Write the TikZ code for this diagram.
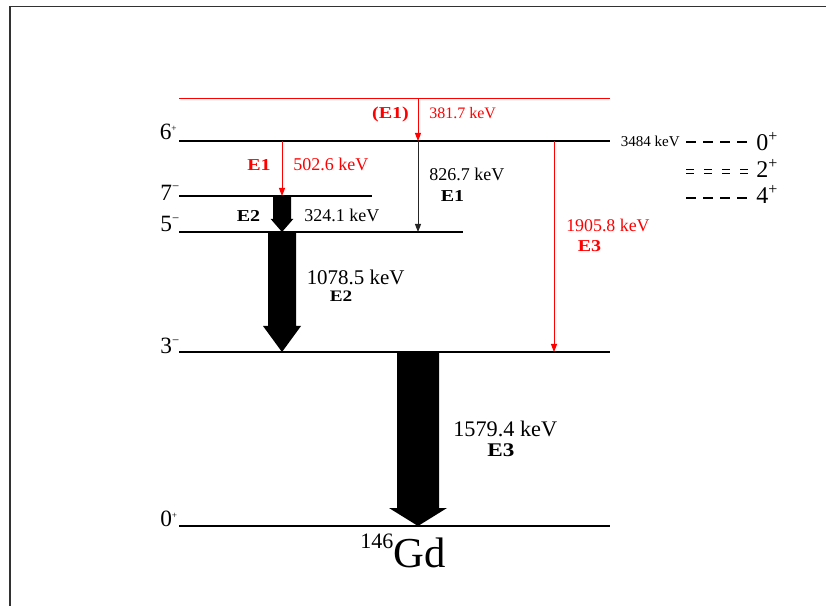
\documentclass[tikz,border=0pt]{standalone}
\usepackage{fontspec}
\setmainfont{Liberation Serif}
\newfontfamily\boldwide[FakeStretch=1.2]{Liberation Serif}
\usetikzlibrary{arrows.meta,calc}
\newcommand\fsz[1]{\fontsize{#1}{#1}\selectfont}
\newcommand\fatarrow[5]{%
  \fill ($(#1)+(-#3,0)$) -- ($(#1)+(#3,0)$) -- ($(#2)+(#3,-#5)$) -- ($(#2)+(#4,-#5)$) -- (#2)
     -- ($(#2)+(-#4,-#5)$) -- ($(#2)+(-#3,-#5)$) -- cycle;}
\definecolor{lred}{RGB}{255,0,0}
\definecolor{framec}{RGB}{50,50,50}
\begin{document}
\begin{tikzpicture}[x=0.75pt,y=-0.75pt,
  level/.style={line width=0.85pt},
  thinarr/.style={line width=0.75pt,-{Triangle[width=4.5pt,length=6pt]}},
  kev/.style={anchor=base west,inner sep=0pt},
  eb/.style={anchor=base,inner sep=0pt,font=\boldwide\bfseries\fsz{12.5}},
  lvl/.style={anchor=base east,inner sep=0pt,font=\fsz{17.5}},
  rlab/.style={anchor=base west,inner sep=0pt,font=\fsz{18}},
  rdash/.style={line width=0.8pt,dash pattern=on 7.5pt off 5.25pt}]
\useasboundingbox (0,0) rectangle (826,606);
% frame
\draw[framec,line width=1.2pt] (9.7,620) -- (9.7,6.5) -- (840,6.5);
% level coordinates
\coordinate (Rw) at (179,98.5);   \coordinate (Re) at (610,98.5);
\coordinate (A6w) at (179,141); \coordinate (A6e) at (610,141);
\coordinate (A7w) at (179,196); \coordinate (A7e) at (372,196);
\coordinate (A5w) at (179,232); \coordinate (A5e) at (463,232);
\coordinate (A3w) at (179,352); \coordinate (A3e) at (610,352);
\coordinate (A0w) at (179,526); \coordinate (A0e) at (610,526);
% levels
\draw[level,draw=lred] (Rw) -- (Re);
\draw[level] (A6w) -- (A6e);
\draw[level] (A7w) -- (A7e);
\draw[level] (A5w) -- (A5e);
\draw[level] (A3w) -- (A3e);
\draw[line width=1.9pt] (A0w) -- (A0e);
% level labels
\node[lvl] (l6) at (177,140) {6\raisebox{6.5pt}{\fsz{7}+}};
\node[lvl] (l7) at (179.5,200.5) {7\raisebox{7.3pt}{\fsz{9.5}−}};
\node[lvl] (l5) at (179.5,232) {5\raisebox{7.3pt}{\fsz{9.5}−}};
\node[lvl] (l3) at (179.5,354) {3\raisebox{7.3pt}{\fsz{9.5}−}};
\node[lvl] (l0) at (177.5,527) {0\raisebox{6.5pt}{\fsz{7}+}};
% transition coordinates
\coordinate (t381a) at (418,98.5);  \coordinate (t381b) at (418,141);
\coordinate (t502a) at (282,141); \coordinate (t502b) at (282,196);
\coordinate (t826a) at (418,141); \coordinate (t826b) at (418,232);
\coordinate (t1905a) at (554,141); \coordinate (t1905b) at (554,352);
\coordinate (t324a) at (282,196); \coordinate (t324b) at (282,232);
\coordinate (t1078a) at (282,232); \coordinate (t1078b) at (282,352);
\coordinate (t1579a) at (418,352); \coordinate (t1579b) at (418,526);
% thin transitions
\draw[thinarr,lred] (t381a) -- (t381b);
\draw[thinarr,lred] (t502a) -- (t502b);
\draw[thinarr,black!85] (t826a) -- (t826b);
\draw[thinarr,lred] (t1905a) -- (t1905b);
% fat transitions
\fatarrow{t324a}{t324b}{9}{11.3}{13}
\fatarrow{t1078a}{t1078b}{14}{19}{26}
\fatarrow{t1579a}{t1579b}{21}{29}{18}
% transition labels
\node[eb,text=lred] (e381) at (390.5,119) {(E1)};
\node[kev,text=lred,font=\fsz{12}] (k381) at (429,119) {381.7 keV};
\node[eb,text=lred] (e502) at (259,171) {E1};
\node[kev,text=lred,font=\fsz{13.5}] (k502) at (293,171) {502.6 keV};
\node[eb] (e324) at (248.5,221.5) {E2};
\node[kev,font=\fsz{13.5}] (k324) at (304,222) {324.1 keV};
\node[kev,font=\fsz{13.5}] (k826) at (429,181) {826.7 keV};
\node[eb] (e826) at (452.5,202) {E1};
\node[kev,text=lred,font=\fsz{13.4}] (k1905) at (566,232) {1905.8 keV};
\node[eb,text=lred] (e1905) at (589.5,252) {E3};
\node[kev,font=\fsz{15.7}] (k1078) at (306.5,285) {1078.5 keV};
\node[eb,font=\boldwide\bfseries\fsz{12}] (e1078) at (341,302) {E2};
\node[kev,font=\fsz{16.7}] (k1579) at (453,436) {1579.4 keV};
\node[eb,font=\boldwide\bfseries\fsz{14.5}] (e1579) at (501,456) {E3};
% nucleus
\node[anchor=base west,inner sep=0pt] (gd) at (360,567) {\fsz{16.5}\raisebox{14pt}{146}\fsz{32}Gd};
% right side
\node[kev,font=\fsz{11.3}] (k3484) at (620.5,147) {3484 keV};
\coordinate (d1a) at (686,142); \coordinate (d1b) at (748,142);
\coordinate (d2a) at (686,169.5); \coordinate (d2b) at (748,169.5);
\coordinate (d3a) at (686,173.5); \coordinate (d3b) at (748,173.5);
\coordinate (d4a) at (686,198); \coordinate (d4b) at (748,198);
\draw[rdash] (d1a) -- (d1b);
\draw[line width=0.7pt,dash pattern=on 6pt off 7.5pt] (d2a) -- (d2b);
\draw[line width=0.7pt,dash pattern=on 6pt off 7.5pt] (d3a) -- (d3b);
\draw[rdash] (d4a) -- (d4b);
\node[rlab] (r0) at (756,151) {0\raisebox{7pt}{\fsz{12}+}};
\node[rlab] (r2) at (756,178) {2\raisebox{7pt}{\fsz{12}+}};
\node[rlab] (r4) at (756,204) {4\raisebox{7pt}{\fsz{12}+}};
\end{tikzpicture}
\end{document}
